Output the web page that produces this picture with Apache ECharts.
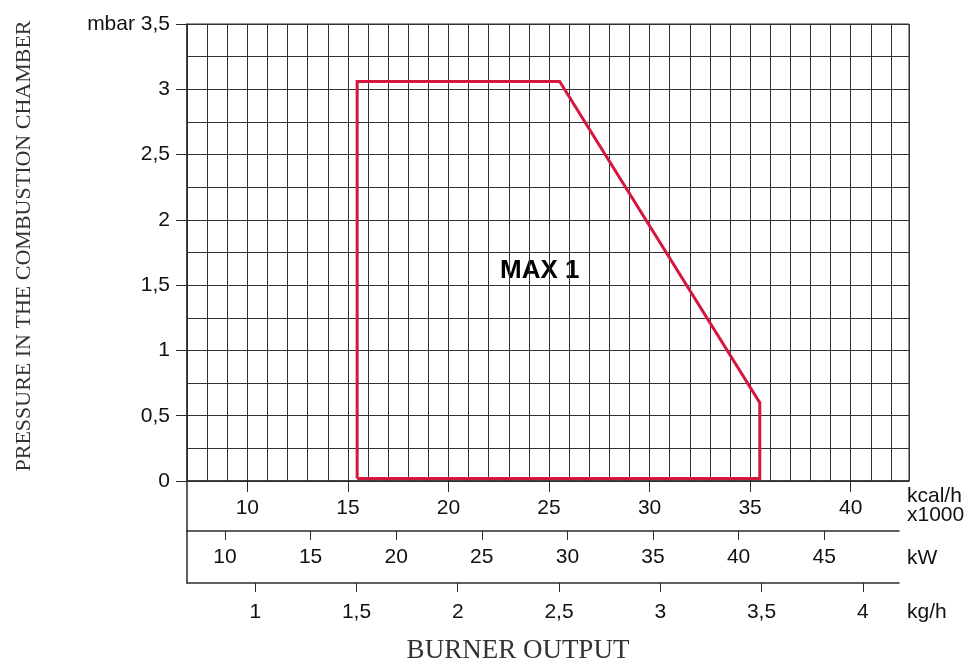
<!DOCTYPE html>
<html>
<head>
<meta charset="utf-8">
<script src="https://cdn.jsdelivr.net/npm/echarts@6/dist/echarts.min.js"></script>
<style>
  html, body { margin: 0; padding: 0; background: #fff; }
  #chart { width: 970px; height: 665px; }
</style>
</head>
<body>
<div id="chart"></div>
<script>
// tick labels of the three output scales and the pressure scale
const kcalTicks = [10, 15, 20, 25, 30, 35, 40];
const kwTicks = [10, 15, 20, 25, 30, 35, 40, 45];
const kghTicks = [1, 1.5, 2, 2.5, 3, 3.5, 4];
const pressureTicks = [0, 0.5, 1, 1.5, 2, 2.5, 3, 3.5];

// working field MAX 1 (kcal/h x1000, mbar)
const fieldKcal = [15.46, 15.46, 25.53, 35.48, 35.48, 15.46];
const fieldMbar = [0.02, 3.06, 3.06, 0.6, 0.02, 0.02];

const fmt = v => String(v).replace('.', ',');
const labelFont = { fontFamily: 'Liberation Sans', fontSize: 21, color: '#111' };
const lineCol = '#2b2b2b';

let chart = echarts.init(document.getElementById('chart'));

let option = {
  animation: false,
  grid: [
    { left: 187, top: 24, width: 722, height: 457, show: true, borderColor: lineCol, borderWidth: 1 },
    { left: 187, top: 481, width: 712, height: 50 },
    { left: 187, top: 531, width: 712, height: 52 }
  ],
  xAxis: [
    { // vertical grid lines, 1 kcal/h x1000 each
      type: 'value', gridIndex: 0, min: 7, max: 42.9, interval: 1,
      axisLine: { show: true, lineStyle: { color: lineCol, width: 1.5 } },
      axisTick: { show: false }, axisLabel: { show: false },
      splitLine: { show: true, lineStyle: { color: '#333', width: 1 } }
    },
    { // kcal/h x1000 labels
      type: 'value', gridIndex: 0, min: 7, max: 42.9, position: 'bottom',
      axisLine: { show: false },
      axisTick: { show: true, length: 11, customValues: kcalTicks, lineStyle: { color: lineCol } },
      axisLabel: Object.assign({ customValues: kcalTicks, margin: 17, formatter: fmt }, labelFont),
      splitLine: { show: false }
    },
    { // kW
      type: 'value', gridIndex: 1, min: 7.78, max: 49.37, position: 'bottom',
      axisLine: { show: true, lineStyle: { color: lineCol, width: 1.5 } },
      axisTick: { show: true, length: 9, customValues: kwTicks, lineStyle: { color: lineCol } },
      axisLabel: Object.assign({ customValues: kwTicks, margin: 16, formatter: fmt }, labelFont),
      splitLine: { show: false }
    },
    { // kg/h
      type: 'value', gridIndex: 2, min: 0.663, max: 4.179, position: 'bottom',
      axisLine: { show: true, lineStyle: { color: lineCol, width: 1.5 } },
      axisTick: { show: true, length: 9, customValues: kghTicks, lineStyle: { color: lineCol } },
      axisLabel: Object.assign({ customValues: kghTicks, margin: 19, formatter: fmt }, labelFont),
      splitLine: { show: false }
    }
  ],
  yAxis: [
    { // horizontal grid lines every 0,25 mbar
      type: 'value', gridIndex: 0, min: 0, max: 3.5, interval: 0.25, position: 'left',
      axisLine: { show: true, lineStyle: { color: lineCol, width: 1.5 } },
      axisTick: { show: false }, axisLabel: { show: false },
      splitLine: { show: true, lineStyle: { color: '#333', width: 1 } }
    },
    { // mbar labels
      type: 'value', gridIndex: 0, min: 0, max: 3.5, position: 'left',
      axisLine: { show: false },
      axisTick: { show: true, length: 11, customValues: pressureTicks, lineStyle: { color: lineCol } },
      axisLabel: Object.assign({
        customValues: pressureTicks, margin: 17,
        formatter: v => (v === 3.5 ? 'mbar 3,5' : fmt(v))
      }, labelFont),
      splitLine: { show: false }
    },
    {
      type: 'value', gridIndex: 1, min: 0, max: 1,
      axisLine: { show: true, lineStyle: { color: lineCol, width: 1.5 } },
      axisTick: { show: false }, axisLabel: { show: false }, splitLine: { show: false }
    },
    {
      type: 'value', gridIndex: 2, min: 0, max: 1,
      axisLine: { show: true, lineStyle: { color: lineCol, width: 1.5 } },
      axisTick: { show: false }, axisLabel: { show: false }, splitLine: { show: false }
    }
  ],
  series: [{
    name: 'MAX 1',
    type: 'line',
    xAxisIndex: 0,
    yAxisIndex: 0,
    symbol: 'none',
    data: fieldKcal.map((x, i) => [x, fieldMbar[i]]),
    lineStyle: { color: '#d6173d', width: 3, join: 'miter' },
    z: 5
  }],
  graphic: [
    { type: 'text', left: 500, top: 258, style: { text: 'MAX 1', font: 'bold 26px "Liberation Sans"', fill: '#000' } },
    { type: 'text', left: 907, top: 486, style: { text: 'kcal/h\nx1000', font: '21px "Liberation Sans"', fill: '#111', lineHeight: 19 } },
    { type: 'text', left: 907, top: 548, style: { text: 'kW', font: '21px "Liberation Sans"', fill: '#111' } },
    { type: 'text', left: 907, top: 602, style: { text: 'kg/h', font: '21px "Liberation Sans"', fill: '#111' } },
    { type: 'text', x: 518, y: 651, style: { text: 'BURNER OUTPUT', font: '27px "Liberation Serif"', fill: '#333', align: 'center', verticalAlign: 'middle' } },
    { type: 'text', x: 24, y: 246, rotation: Math.PI / 2,
      style: { text: 'PRESSURE IN THE COMBUSTION CHAMBER', font: '22px "Liberation Serif"', fill: '#333', align: 'center', verticalAlign: 'middle' } }
  ]
};

chart.setOption(option);
</script>
</body>
</html>
